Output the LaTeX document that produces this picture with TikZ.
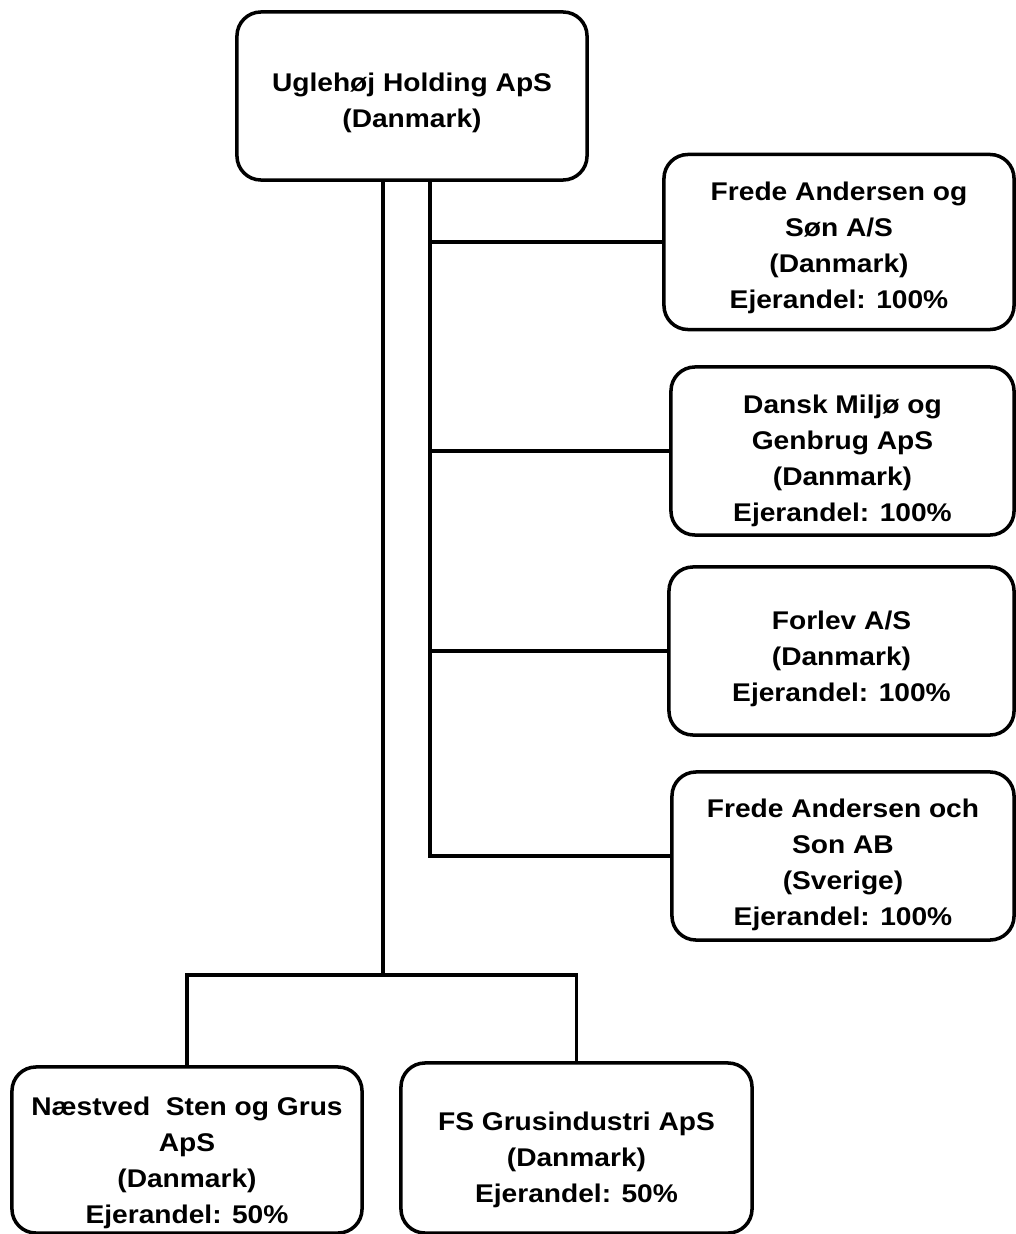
\documentclass[tikz,border=0pt]{standalone}
\usepackage{fontspec}
\setmainfont{Liberation Sans}[FakeStretch=1.1]
\tikzset{
  firma/.style={draw, line width=2.5pt, rounded corners=0.6cm, align=center,
    inner sep=0pt, font=\fontsize{18.2}{25.5}\selectfont\bfseries},
  forbind/.style={line width=2.6pt},
}
\begin{document}
\begin{tikzpicture}[x=0.025cm, y=-0.025cm]
  \useasboundingbox (0,0) rectangle (1016,1234);
  \node[firma, text height=48.8pt, minimum width=8.75cm, minimum height=4.2cm] (uglehoj) at (412,96)
    {Uglehøj Holding ApS\\(Danmark)};
  \node[firma, text height=98.3pt, minimum width=8.75cm, minimum height=4.375cm] (frede) at (839,242)
    {Frede Andersen og\\Søn A/S\\(Danmark)\\Ejerandel: 100\%};
  \node[firma, text height=104pt, minimum width=8.575cm, minimum height=4.2cm] (dansk) at (842.5,451)
    {Dansk Miljø og\\Genbrug ApS\\(Danmark)\\Ejerandel: 100\%};
  \node[firma, text height=75.6pt, minimum width=8.625cm, minimum height=4.2cm] (forlev) at (841.5,651)
    {Forlev A/S\\(Danmark)\\Ejerandel: 100\%};
  \node[firma, text height=102pt, minimum width=8.55cm, minimum height=4.2cm] (sverige) at (843,856)
    {Frede Andersen och\\Son AB\\(Sverige)\\Ejerandel: 100\%};
  \node[firma, text height=108pt, minimum width=8.75cm, minimum height=4.15cm] (naestved) at (187,1150)
    {Næstved\ \ Sten og Grus\\ApS\\(Danmark)\\Ejerandel: 50\%};
  \node[firma, text height=81.3pt, minimum width=8.775cm, minimum height=4.25cm] (fsgrus) at (576.5,1148)
    {FS Grusindustri ApS\\(Danmark)\\Ejerandel: 50\%};
  \coordinate (splitA) at (383,975);
  \coordinate (splitB) at (430,852);
  \begin{scope}[forbind]
    \draw (uglehoj.south -| splitA) -- (splitA);
    \draw (naestved.north) |- (splitA) -| (fsgrus.north);
    \draw (uglehoj.south -| splitB) |- (sverige.west);
    \foreach \n in {frede,dansk,forlev}
      \draw (\n.west -| splitB) -- (\n.west);
  \end{scope}
\end{tikzpicture}
\end{document}
